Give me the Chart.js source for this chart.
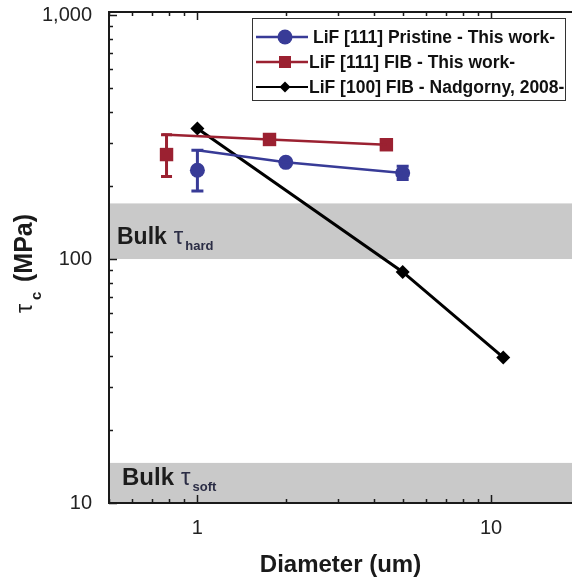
<!DOCTYPE html>
<html>
<head>
<meta charset="utf-8">
<script src="https://cdn.jsdelivr.net/npm/chart.js@4/dist/chart.umd.min.js"></script>
<style>
    html, body { margin: 0; padding: 0; background: #fff; }
    #wrap { position: relative; width: 572px; height: 581px; }
</style>
</head>
<body>
<div id="wrap"><canvas id="tauChart"></canvas></div>
<script>
// LiF [111] Pristine - this work
const pristineDiam = [1, 2, 5]
const pristineTau = [231, 249, 225]
const pristineErrLow = [190, 249, 212]
const pristineErrHigh = [279, 249, 240]
const pristineLineDiam = [1, 2, 5]
const pristineLineTau = [279, 249, 225]

// LiF [111] FIB - this work
const fibDiam = [0.785, 1.76, 4.4]
const fibTau = [268, 309, 294]
const fibErrLow = [218, 309, 294]
const fibErrHigh = [323, 309, 294]
const fibLineDiam = [0.76, 1.76, 4.4]
const fibLineTau = [324, 309, 294]

// LiF [100] FIB - Nadgorny, 2008
const nadDiam = [1, 5, 11]
const nadTau = [343, 88.5, 39.5]

// bulk bands (MPa)
const bulkHard = [100, 169]
const bulkSoft = [10, 14.6]

const xTicks = [1, 10]
const yTicks = [10, 100, 1000]

const blue = '#383b97'
const red = '#9b2131'
const ink = '#1a1a1a'
const family = '"Liberation Sans", Arial, Helvetica, sans-serif'

const legendItems = [
    { text: 'LiF [111] Pristine - This work-', color: blue, style: 'circle', r: 7.5, width: 2.5 },
    { text: 'LiF [111] FIB - This work-', color: red, style: 'rect', r: 6, width: 2.5 },
    { text: 'LiF [100] FIB - Nadgorny, 2008-', color: '#000', style: 'diamond', r: 5.5, width: 2 }
]

const toPoints = (xs, ys) => xs.map((x, i) => ({ x: x, y: ys[i] }))

// маркер для легенды
const drawMarker = (ctx, style, x, y, r, color) => {
    ctx.fillStyle = color
    ctx.beginPath()
    if (style === 'circle') {
        ctx.arc(x, y, r, 0, Math.PI * 2)
    } else if (style === 'rect') {
        ctx.rect(x - r, y - r, 2 * r, 2 * r)
    } else {
        ctx.moveTo(x, y - r)
        ctx.lineTo(x + r, y)
        ctx.lineTo(x, y + r)
        ctx.lineTo(x - r, y)
        ctx.closePath()
    }
    ctx.fill()
}

// значения 1..9 x 10^k в пределах шкалы
const logSteps = (min, max) => {
    const out = []
    for (let k = Math.floor(Math.log10(min)); k <= Math.ceil(Math.log10(max)); k++) {
        for (let d = 1; d <= 9; d++) {
            const v = d * Math.pow(10, k)
            if (v >= min * 0.999 && v <= max * 1.001) out.push({ v: v, major: d === 1 })
        }
    }
    return out
}

const errorSets = [
    { xs: pristineDiam, lo: pristineErrLow, hi: pristineErrHigh, color: blue, cap: 6 },
    { xs: fibDiam, lo: fibErrLow, hi: fibErrHigh, color: red, cap: 5.5 }
]

const decorPlugin = {
    id: 'decor',
    beforeDraw(chart) {
        const { ctx, chartArea: a, scales: { y } } = chart
        ctx.save()
        ctx.fillStyle = '#c9c9c9'
        ;[bulkHard, bulkSoft].forEach(band => {
            const top = y.getPixelForValue(band[1])
            const bottom = y.getPixelForValue(band[0])
            ctx.fillRect(a.left, top, a.right - a.left, bottom - top)
        })
        ctx.restore()
    },
    beforeDatasetsDraw(chart) {
        const { ctx, chartArea: a, scales: { x, y } } = chart
        ctx.save()
        // подписи полос
        const labels = [
            { base: y.getPixelForValue(bulkHard[0]) - 15, sub: 'hard', dx: 8, size: 23 },
            { base: y.getPixelForValue(bulkSoft[0]) - 18, sub: 'soft', dx: 13, size: 24 }
        ]
        labels.forEach(l => {
            let px = a.left + l.dx
            ctx.fillStyle = '#1c1c1c'
            ctx.font = 'bold ' + l.size + 'px ' + family
            ctx.textBaseline = 'alphabetic'
            ctx.fillText('Bulk', px, l.base)
            px += ctx.measureText('Bulk').width + 7
            ctx.fillStyle = '#2b2d45'
            ctx.font = '24px ' + family
            ctx.fillText('τ', px, l.base)
            px += ctx.measureText('τ').width + 2
            ctx.font = 'bold 13px ' + family
            ctx.fillText(l.sub, px, l.base + 6)
        })

        // планки погрешностей
        errorSets.forEach(set => {
            ctx.strokeStyle = set.color
            ctx.lineWidth = 3
            set.xs.forEach((d, i) => {
                if (set.lo[i] === set.hi[i]) return
                const px = x.getPixelForValue(d)
                const yl = y.getPixelForValue(set.lo[i])
                const yh = y.getPixelForValue(set.hi[i])
                ctx.beginPath()
                ctx.moveTo(px, yl)
                ctx.lineTo(px, yh)
                ctx.moveTo(px - set.cap, yl)
                ctx.lineTo(px + set.cap, yl)
                ctx.moveTo(px - set.cap, yh)
                ctx.lineTo(px + set.cap, yh)
                ctx.stroke()
            })
        })
        ctx.restore()
    },
    afterDraw(chart) {
        const { ctx, chartArea: a, scales: { x, y } } = chart
        ctx.save()
        ctx.strokeStyle = ink

        // верхняя рамка
        ctx.lineWidth = 2
        ctx.beginPath()
        ctx.moveTo(a.left, a.top)
        ctx.lineTo(a.right, a.top)
        ctx.stroke()

        // засечки внутрь
        ctx.lineWidth = 1.5
        ctx.beginPath()
        logSteps(x.min, x.max).forEach(t => {
            const px = Math.round(x.getPixelForValue(t.v)) + 0.5
            const len = t.major ? 8 : 4
            ctx.moveTo(px, a.bottom)
            ctx.lineTo(px, a.bottom - len)
            ctx.moveTo(px, a.top)
            ctx.lineTo(px, a.top + len)
        })
        logSteps(y.min, y.max).forEach(t => {
            const py = Math.round(y.getPixelForValue(t.v)) + 0.5
            const len = t.major ? 8 : 4
            ctx.moveTo(a.left, py)
            ctx.lineTo(a.left + len, py)
        })
        ctx.stroke()

        // легенда
        const box = { left: a.right - 320, top: a.top + 6, w: 313, h: 82 }
        ctx.fillStyle = '#fff'
        ctx.fillRect(box.left, box.top, box.w, box.h)
        ctx.lineWidth = 1
        ctx.strokeStyle = '#333'
        ctx.strokeRect(box.left + 0.5, box.top + 0.5, box.w, box.h)
        ctx.font = 'bold 17.5px ' + family
        ctx.textBaseline = 'middle'
        legendItems.forEach((item, i) => {
            const cy = box.top + 19 + i * 25
            const x0 = box.left + 4
            ctx.strokeStyle = item.color
            ctx.lineWidth = item.width
            ctx.beginPath()
            ctx.moveTo(x0, cy)
            ctx.lineTo(x0 + 52, cy)
            ctx.stroke()
            drawMarker(ctx, item.style, x0 + 29, cy, item.r, item.color)
            ctx.fillStyle = '#111'
            ctx.fillText(item.text, x0 + (i === 0 ? 57 : 53), cy + 1)
        })

        // подпись оси y: τc (MPa)
        ctx.translate(32, 313)
        ctx.rotate(-Math.PI / 2)
        ctx.fillStyle = ink
        ctx.textBaseline = 'alphabetic'
        ctx.font = '23px ' + family
        ctx.fillText('τ', 0, 0)
        ctx.font = 'bold 15px ' + family
        ctx.fillText('c', 13, 9)
        ctx.font = 'bold 25px ' + family
        ctx.fillText('(MPa)', 31, 0)
        ctx.restore()
    }
}

const ctx = document.getElementById('tauChart').getContext('2d')

new Chart(ctx, {
    type: 'scatter',
    data: {
        datasets: [
            {
                label: 'pristine line',
                data: toPoints(pristineLineDiam, pristineLineTau),
                showLine: true,
                borderColor: blue,
                borderWidth: 2.5,
                pointRadius: 0
            },
            {
                label: 'LiF [111] Pristine - This work-',
                data: toPoints(pristineDiam, pristineTau),
                showLine: false,
                pointStyle: 'circle',
                pointRadius: 7.5,
                backgroundColor: blue,
                borderColor: blue,
                borderWidth: 0
            },
            {
                label: 'fib line',
                data: toPoints(fibLineDiam, fibLineTau),
                showLine: true,
                borderColor: red,
                borderWidth: 2.5,
                pointRadius: 0
            },
            {
                label: 'LiF [111] FIB - This work-',
                data: toPoints(fibDiam, fibTau),
                showLine: false,
                pointStyle: 'rect',
                pointRadius: 9.5,
                backgroundColor: red,
                borderColor: red,
                borderWidth: 0
            },
            {
                label: 'LiF [100] FIB - Nadgorny, 2008-',
                data: toPoints(nadDiam, nadTau),
                showLine: true,
                borderColor: '#000',
                borderWidth: 3,
                pointStyle: 'rectRot',
                pointRadius: 7,
                backgroundColor: '#000',
                pointBorderWidth: 0
            }
        ]
    },
    options: {
        responsive: true,
        maintainAspectRatio: false,
        animation: false,
        layout: { autoPadding: false, padding: { top: 12, left: 0, right: 0, bottom: 0 } },
        plugins: {
            legend: { display: false },
            tooltip: { enabled: false }
        },
        scales: {
            x: {
                type: 'logarithmic',
                position: 'bottom',
                min: 0.5,
                max: 18.86,
                afterBuildTicks: scale => { scale.ticks = xTicks.map(v => ({ value: v })) },
                afterFit: scale => {
                    scale.height = 78
                    scale.paddingLeft = 0
                    scale.paddingRight = 0
                },
                grid: { drawOnChartArea: false, drawTicks: true, tickLength: 13, color: 'rgba(0,0,0,0)' },
                border: { display: true, color: ink, width: 2 },
                ticks: {
                    padding: 0,
                    color: '#222',
                    autoSkip: false,
                    maxRotation: 0,
                    font: { size: 20, family: family },
                    callback: v => Number(v).toLocaleString('en-US')
                },
                title: {
                    display: true,
                    text: 'Diameter (um)',
                    color: ink,
                    font: { size: 24, weight: 'bold', family: family },
                    padding: { top: 0, bottom: 1 }
                }
            },
            y: {
                type: 'logarithmic',
                min: 10,
                max: 1029,
                afterBuildTicks: scale => { scale.ticks = yTicks.map(v => ({ value: v })) },
                afterFit: scale => {
                    scale.width = 109
                    scale.paddingTop = 0
                    scale.paddingBottom = 0
                },
                grid: { drawOnChartArea: false, drawTicks: true, tickLength: 17, color: 'rgba(0,0,0,0)' },
                border: { display: true, color: ink, width: 2 },
                ticks: {
                    padding: 0,
                    color: '#222',
                    autoSkip: false,
                    font: { size: 20, family: family, lineHeight: 1 },
                    callback: v => Number(v).toLocaleString('en-US')
                }
            }
        }
    },
    plugins: [decorPlugin]
})
</script>
</body>
</html>
